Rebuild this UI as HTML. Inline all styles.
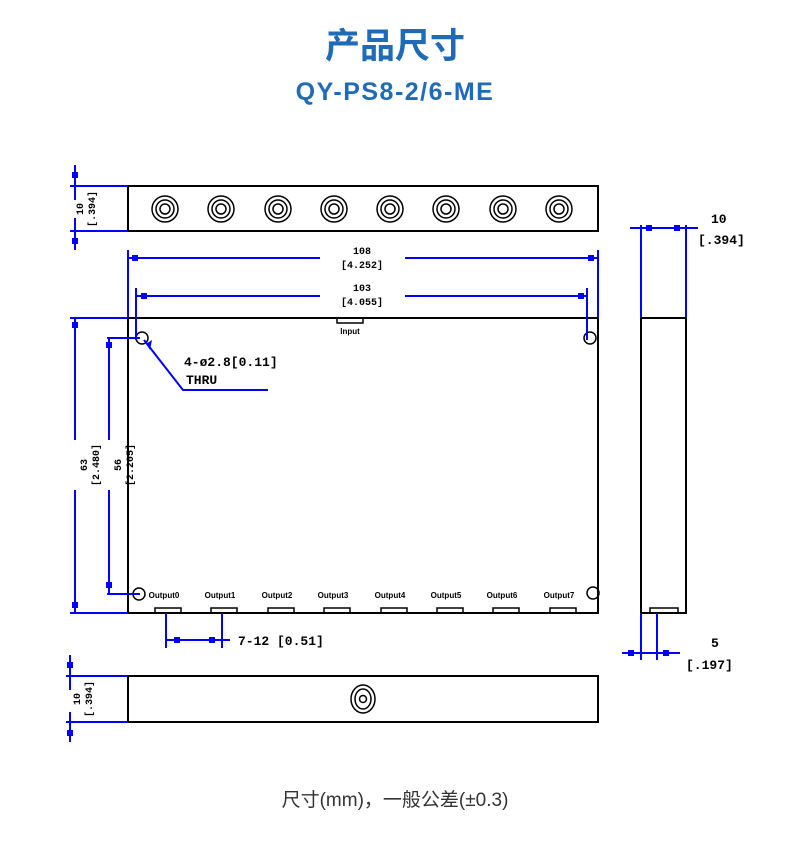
<!DOCTYPE html>
<html><head><meta charset="utf-8"><style>
html,body{margin:0;padding:0;background:#fff;}
svg{display:block;}
</style></head><body>
<svg width="790" height="853" viewBox="0 0 790 853" xmlns="http://www.w3.org/2000/svg">
<text x="395" y="58" text-anchor="middle" font-family="Liberation Sans, Noto Sans CJK SC, sans-serif" font-weight="bold" font-size="35" fill="#1f6bb8">产品尺寸</text>
<text x="395" y="100" text-anchor="middle" font-family="Liberation Sans, sans-serif" font-weight="bold" font-size="25" letter-spacing="1.5" fill="#1f6bb8">QY-PS8-2/6-ME</text>

<g fill="none" stroke="#000" stroke-width="2">
<rect x="128" y="186" width="470" height="45"/>
<rect x="128" y="318" width="470" height="295"/>
<rect x="641" y="318" width="45" height="295"/>
<rect x="128" y="676" width="470" height="46"/>
</g>
<g fill="none" stroke="#000" stroke-width="1.5">
<g id="c"><circle cx="165" cy="209" r="13"/><circle cx="165" cy="209" r="9"/><circle cx="165" cy="209" r="5"/></g>
<use href="#c" x="56"/><use href="#c" x="113"/><use href="#c" x="169"/><use href="#c" x="225"/><use href="#c" x="281"/><use href="#c" x="338"/><use href="#c" x="394"/>
<ellipse cx="363" cy="699" rx="12" ry="14"/><ellipse cx="363" cy="699" rx="8" ry="10"/><circle cx="363" cy="699" r="3.5"/>
<circle cx="142" cy="338" r="6"/><circle cx="590" cy="338" r="6"/><circle cx="139" cy="594" r="6"/><circle cx="593" cy="593" r="6"/>
<rect x="337" y="318" width="26" height="5"/>
<g id="t"><rect x="155" y="608" width="26" height="5"/></g>
<use href="#t" x="56"/><use href="#t" x="113"/><use href="#t" x="169"/><use href="#t" x="226"/><use href="#t" x="282"/><use href="#t" x="338"/><use href="#t" x="395"/>
<rect x="650" y="608" width="28" height="5"/>
</g>
<g font-family="Liberation Sans, sans-serif" font-size="8" font-weight="bold" fill="#000">
<text x="350" y="334" text-anchor="middle">Input</text>
<text x="164" y="598" text-anchor="middle">Output0</text><text x="220" y="598" text-anchor="middle">Output1</text>
<text x="277" y="598" text-anchor="middle">Output2</text><text x="333" y="598" text-anchor="middle">Output3</text>
<text x="390" y="598" text-anchor="middle">Output4</text><text x="446" y="598" text-anchor="middle">Output5</text>
<text x="502" y="598" text-anchor="middle">Output6</text><text x="559" y="598" text-anchor="middle">Output7</text>
</g>

<g stroke="#0000ff" stroke-width="2" fill="none">
<path d="M70 186H128M70 231H128M75 165V200M75 218V250"/>
<path d="M128 250V318M598 250V318M128 258H320M405 258H598"/>
<path d="M136 288V340M587 288V340M136 296H320M405 296H587"/>
<path d="M70 318H128M70 613H128M75 318V440M75 490V613"/>
<path d="M107 338H140M107 594H140M109 338V440M109 490V594"/>
<path d="M144 340L183 390H268"/>
<path d="M166 613V648M222 613V648M166 640H230"/>
<path d="M641 225V318M686 225V318M630 228H698"/>
<path d="M641 613V660M657 613V660M622 653H680"/>
<path d="M66 676H128M66 722H128M70 655V690M70 712V742"/>
</g>
<g fill="#0000ff">
<rect x="132" y="255" width="6" height="6"/><rect x="588" y="255" width="6" height="6"/>
<rect x="141" y="293" width="6" height="6"/><rect x="578" y="293" width="6" height="6"/>
<rect x="72" y="322" width="6" height="6"/><rect x="72" y="602" width="6" height="6"/>
<rect x="106" y="342" width="6" height="6"/><rect x="106" y="582" width="6" height="6"/>
<rect x="174" y="637" width="6" height="6"/><rect x="209" y="637" width="6" height="6"/>
<rect x="646" y="225" width="6" height="6"/><rect x="674" y="225" width="6" height="6"/>
<rect x="628" y="650" width="6" height="6"/><rect x="663" y="650" width="6" height="6"/>
<rect x="72" y="172" width="6" height="6"/><rect x="72" y="238" width="6" height="6"/>
<rect x="67" y="662" width="6" height="6"/><rect x="67" y="730" width="6" height="6"/>
<path d="M146 344L152 340L150 350Z"/>
</g>
<g font-family="Liberation Mono, monospace" font-size="10" font-weight="bold" fill="#000" text-anchor="middle">
<text x="362" y="254">108</text><text x="362" y="268">[4.252]</text>
<text x="362" y="291">103</text><text x="362" y="305">[4.055]</text>
<text transform="translate(87,465) rotate(-90)">63</text><text transform="translate(99,465) rotate(-90)">[2.480]</text>
<text transform="translate(121,465) rotate(-90)">56</text><text transform="translate(133,465) rotate(-90)">[2.205]</text>
<text transform="translate(83,209) rotate(-90)">10</text><text transform="translate(95,209) rotate(-90)">[.394]</text>
<text transform="translate(80,699) rotate(-90)">10</text><text transform="translate(92,699) rotate(-90)">[.394]</text>
</g>
<g font-family="Liberation Mono, monospace" font-size="13" font-weight="bold" fill="#000">
<text x="184" y="366">4-ø2.8[0.11]</text><text x="186" y="384">THRU</text>
<text x="238" y="645">7-12 [0.51]</text>
<text x="711" y="223">10</text><text x="698" y="244">[.394]</text>
<text x="711" y="647">5</text><text x="686" y="669">[.197]</text>
</g>
<text x="395" y="806" text-anchor="middle" font-family="Liberation Sans, Noto Sans CJK SC, sans-serif" font-size="19" fill="#333">尺寸(mm)，一般公差(±0.3)</text>
</svg>
</body></html>
